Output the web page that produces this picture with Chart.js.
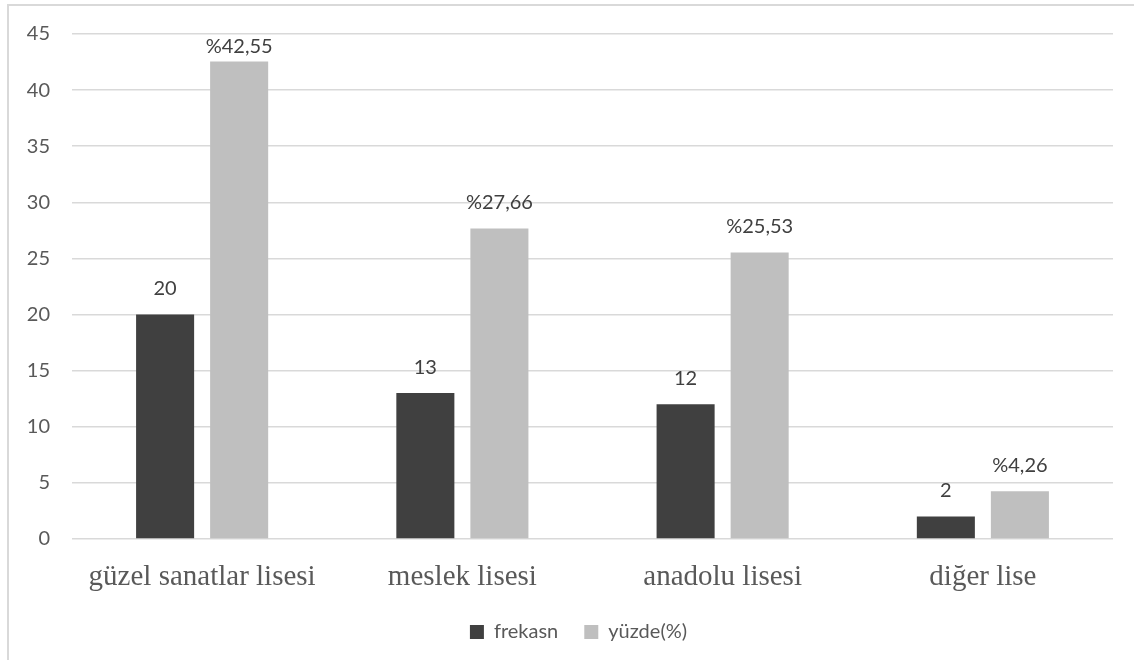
<!DOCTYPE html>
<html>
<head>
<meta charset="utf-8">
<script src="https://cdn.jsdelivr.net/npm/chart.js@4"></script>
<style>
  html, body { margin: 0; padding: 0; background: #fff; }
  #wrap { position: relative; width: 1134px; height: 660px; overflow: hidden; }
  #frame { position: absolute; left: 7px; top: 4px; width: 1200px; height: 700px; border: 2px solid #d9d9d9; box-sizing: border-box; }
  canvas { position: absolute; left: 0; top: 0; }
</style>
</head>
<body>
<div id="wrap">
  <div id="frame"></div>
  <canvas id="chart" width="1134" height="660"></canvas>
</div>
<script>
const categories = ["güzel sanatlar lisesi", "meslek lisesi", "anadolu lisesi", "diğer lise"];
const frekans = [20, 13, 12, 2];
const yuzde = [42.55, 27.66, 25.53, 4.26];
const frekansLabels = ["20", "13", "12", "2"];
const yuzdeLabels = ["%42,55", "%27,66", "%25,53", "%4,26"];

const numFont = "Lato, 'Open Sans', sans-serif";

// draws the value above each bar, like the Excel data labels
const barLabels = {
  id: "barLabels",
  afterDatasetsDraw(chart) {
    const c = chart.ctx;
    const top = chart.chartArea.top;
    c.save();
    c.font = "20px " + numFont;
    c.fillStyle = "#404040";
    c.textAlign = "center";
    c.textBaseline = "middle";
    chart.data.datasets.forEach((ds, i) => {
      chart.getDatasetMeta(i).data.forEach((bar, j) => {
        const y = Math.max(bar.y - 26, top + 13);
        c.fillText(ds.labelsText[j], bar.x, y);
      });
    });
    c.restore();
  }
};

// excel puts the legend a bit right of the middle
const legendShift = {
  id: "legendShift",
  afterLayout(chart) {
    chart.legend.left += 22;
    chart.legend.right += 22;
  }
};

new Chart(document.getElementById("chart"), {
  type: "bar",
  data: {
    labels: categories,
    datasets: [
      {
        label: "frekasn",
        data: frekans,
        labelsText: frekansLabels,
        backgroundColor: "#404040",
        categoryPercentage: 0.569,
        barPercentage: 0.784,
      },
      {
        label: "yüzde(%)",
        data: yuzde,
        labelsText: yuzdeLabels,
        backgroundColor: "#bfbfbf",
        categoryPercentage: 0.569,
        barPercentage: 0.784,
      },
    ],
  },
  options: {
    responsive: false,
    animation: false,
    layout: { padding: { left: 0, right: 21, top: 34, bottom: 8 } },
    plugins: {
      tooltip: { enabled: false },
      legend: {
        position: "bottom",
        labels: {
          boxWidth: 14,
          boxHeight: 14,
          padding: 26,
          color: "#595959",
          font: { family: numFont, size: 20 },
        },
      },
    },
    scales: {
      x: {
        afterFit(scale) { scale.height = 57; },
        grid: { display: false, drawTicks: false },
        border: { display: false },
        ticks: {
          color: "#595959",
          padding: 21,
          font: { family: "'Liberation Serif', 'Times New Roman', serif", size: 29 },
        },
      },
      y: {
        min: 0,
        max: 45,
        afterFit(scale) { scale.width = 72; },
        grid: { color: "#d9d9d9", lineWidth: 1.5, drawTicks: false },
        border: { display: false },
        ticks: {
          stepSize: 5,
          padding: 22,
          color: "#595959",
          font: { family: numFont, size: 20 },
        },
      },
    },
  },
  plugins: [barLabels, legendShift],
});
</script>
</body>
</html>
